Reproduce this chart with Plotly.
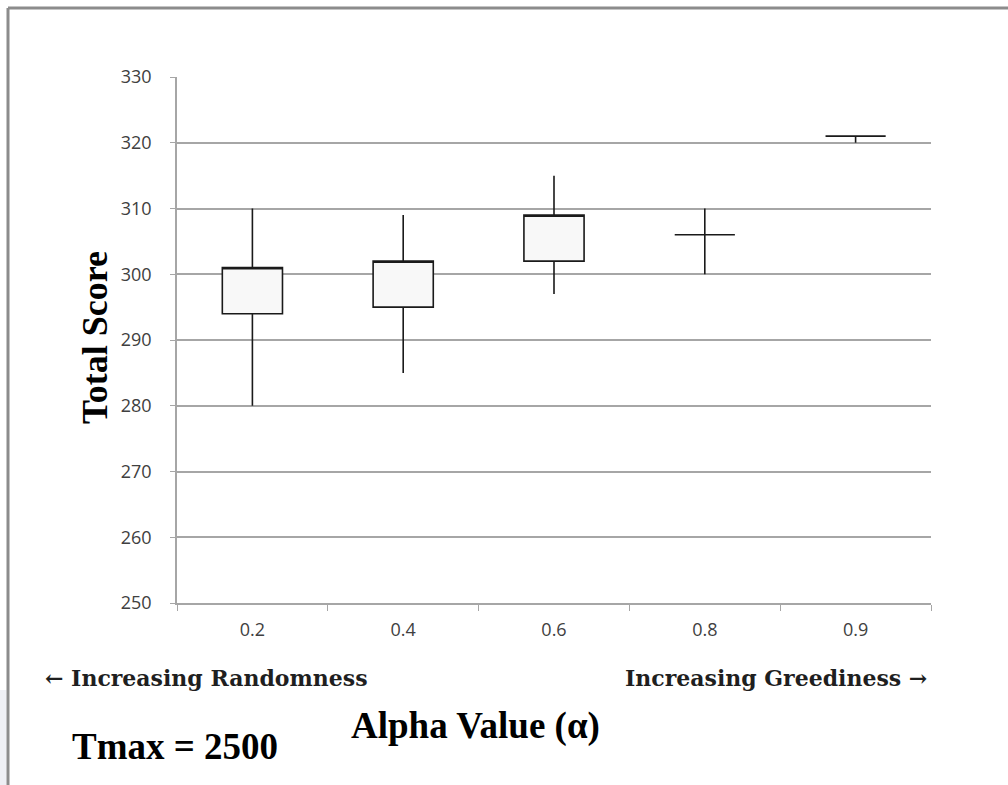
import plotly.graph_objects as go

# Score ranges per alpha setting
alpha_labels = ["0.2", "0.4", "0.6", "0.8", "0.9"]
box_bottom = [294, 295, 302, 306, 321]
box_top = [301, 302, 309, 306, 321]
score_max = [310, 309, 315, 310, 321]
score_min = [280, 285, 297, 300, 320]

y_ticks = [250, 260, 270, 280, 290, 300, 310, 320, 330]

W, H = 1008, 785
L, R, T, B = 177, 77, 77, 182
PW, PH = W - L - R, H - T - B


def px_x(px):
    return (px - L) / PW


def px_y(py):
    return (H - B - py) / PH


fig = go.Figure()
fig.add_trace(go.Candlestick(
    x=alpha_labels,
    open=box_bottom,
    close=box_top,
    high=score_max,
    low=score_min,
    increasing=dict(line=dict(color="#1a1a1a", width=1.6), fillcolor="#f8f8f8"),
    decreasing=dict(line=dict(color="#1a1a1a", width=1.6), fillcolor="#f8f8f8"),
    whiskerwidth=0,
    hoverinfo="skip",
    showlegend=False,
))

grid_col = "#a6a6a6"
tick_font = dict(family="Open Sans", size=18, color="#404040")
serif_bold = "Liberation Serif"

fig.update_layout(
    width=W, height=H,
    margin=dict(l=L, r=R, t=T, b=B, pad=0),
    paper_bgcolor="white",
    plot_bgcolor="white",
    boxgap=0.43,
    xaxis=dict(
        type="category",
        rangeslider=dict(visible=False),
        showgrid=False,
        showline=True, linecolor=grid_col, linewidth=1.5,
        ticks="outside", ticklen=6, tickcolor=grid_col, tickwidth=1,
        tickson="boundaries",
        tickfont=tick_font,
        ticklabelstandoff=10,
        fixedrange=True,
    ),
    yaxis=dict(
        range=[250, 330],
        tickvals=y_ticks,
        showgrid=True, gridcolor=grid_col, gridwidth=1.5,
        showline=True, linecolor=grid_col, linewidth=1.5,
        ticks="outside", ticklen=5, tickcolor=grid_col, tickwidth=1,
        tickfont=tick_font,
        ticklabelstandoff=15,
        zeroline=False,
        fixedrange=True,
    ),
)

big_font = dict(family=serif_bold, size=37, color="black", weight="bold")
side_font = dict(family="DejaVu Serif", size=22, color="#1f1f1f", weight="bold")
annotations = [
    dict(text="Total Score", x=px_x(95), y=px_y(338), textangle=-90,
         font=dict(big_font, size=36), xanchor="center", yanchor="middle"),
    dict(text="Alpha Value (α)", x=px_x(475), y=px_y(726),
         font=big_font, xanchor="center", yanchor="middle"),
    dict(text="Tmax = 2500", x=px_x(70), y=px_y(746),
         font=big_font, xanchor="left", yanchor="middle"),
    dict(text="← Increasing Randomness", x=px_x(43), y=px_y(678),
         font=side_font, xanchor="left", yanchor="middle"),
    dict(text="Increasing Greediness →", x=px_x(929), y=px_y(678),
         font=side_font, xanchor="right", yanchor="middle"),
]
for a in annotations:
    a.update(xref="paper", yref="paper", showarrow=False)
fig.update_layout(annotations=annotations)

# Outer frame around the figure
frame_col = "#8c8c8c"
fig.add_shape(type="line", xref="paper", yref="paper",
              x0=px_x(8), x1=px_x(1010), y0=px_y(8), y1=px_y(8),
              line=dict(color=frame_col, width=3))
fig.add_shape(type="line", xref="paper", yref="paper",
              x0=px_x(8), x1=px_x(8), y0=px_y(8), y1=px_y(790),
              line=dict(color=frame_col, width=3))
fig.add_shape(type="rect", xref="paper", yref="paper",
              x0=px_x(0), x1=px_x(6.5), y0=px_y(690), y1=px_y(790),
              line=dict(width=0), fillcolor="#eeeff4", layer="below")

fig.write_html("out.html")
